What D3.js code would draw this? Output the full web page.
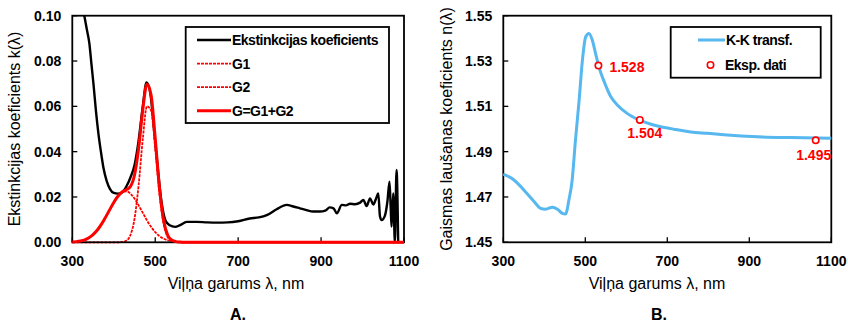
<!DOCTYPE html>
<html>
<head>
<meta charset="utf-8">
<script src="https://cdn.jsdelivr.net/npm/d3@7"></script>
<style>
  body { margin: 0; background: #fff; }
  svg { display: block; font-family: "Liberation Sans", Arial, sans-serif; }
</style>
</head>
<body>
<svg id="chart" width="848" height="322"></svg>
<script>
// panel A: extinction coefficient k(λ)
const kWave = [329, 335, 341, 346, 351, 357, 363, 369, 375, 383, 391, 400, 410, 420, 430, 440, 450, 460, 470, 479, 488, 497, 506, 515, 525, 535, 548, 560, 576, 600, 625, 650, 675, 700, 728, 750, 769, 793, 817, 833, 849, 865, 881, 897, 910, 921, 930, 938, 950, 960, 970, 982, 994, 1002, 1010, 1018, 1026, 1032, 1038, 1042, 1046, 1054, 1060, 1065, 1068, 1070, 1074, 1078, 1082, 1086];
const kValues = [0.100, 0.094, 0.088, 0.079, 0.070, 0.058, 0.048, 0.040, 0.033, 0.027, 0.0235, 0.0218, 0.0215, 0.022, 0.0245, 0.0285, 0.034, 0.045, 0.060, 0.0705, 0.066, 0.050, 0.033, 0.018, 0.0095, 0.0075, 0.0068, 0.0076, 0.009, 0.009, 0.0088, 0.0087, 0.0088, 0.0093, 0.0105, 0.011, 0.012, 0.0146, 0.0165, 0.0158, 0.015, 0.0142, 0.0136, 0.0136, 0.014, 0.0154, 0.015, 0.0128, 0.0165, 0.0163, 0.017, 0.0168, 0.0175, 0.0187, 0.016, 0.0194, 0.0167, 0.019, 0.0216, 0.0115, 0.0098, 0.0118, 0.018, 0.0267, 0.015, 0.0069, 0.0216, 0.0, 0.0319, 0.0];

const gWave = [300, 310, 320, 330, 340, 350, 360, 370, 380, 390, 400, 410, 420, 430, 440, 450, 460, 470, 480, 490, 500, 510, 520, 530, 540, 550, 560, 570, 600, 1100];
const g1Values = [0.00014, 0.0003, 0.0006, 0.0011, 0.0020, 0.0034, 0.0053, 0.0079, 0.0110, 0.0143, 0.0176, 0.0203, 0.0221, 0.0225, 0.0215, 0.0193, 0.0163, 0.0130, 0.0097, 0.0068, 0.0045, 0.0028, 0.0016, 0.0009, 0.0005, 0.0002, 0.0001, 0, 0, 0];
const g2Values = [0, 0, 0, 0, 0, 0, 0, 0, 0, 0, 0, 0.00001, 0.0001, 0.0007, 0.0031, 0.0103, 0.0253, 0.0455, 0.0600, 0.0582, 0.0414, 0.0217, 0.0083, 0.0023, 0.0005, 0.0001, 0, 0, 0, 0];
const gValues = [0.00014, 0.0003, 0.0006, 0.0011, 0.0020, 0.0034, 0.0053, 0.0079, 0.0110, 0.0143, 0.0176, 0.0203, 0.0222, 0.0232, 0.0246, 0.0296, 0.0416, 0.0585, 0.0697, 0.0650, 0.0459, 0.0245, 0.0099, 0.0032, 0.0010, 0.0003, 0.0001, 0, 0, 0];

// panel B: refractive index n(λ)
const nWave = [300, 326, 350, 375, 391, 403, 420, 432, 444, 452, 460, 468, 476, 485, 493, 501, 509, 517, 525, 533, 546, 562, 578, 602, 631, 676, 716, 757, 798, 838, 920, 1001, 1100];
const nValues = [1.4801, 1.4775, 1.4731, 1.468, 1.465, 1.4646, 1.4655, 1.4646, 1.4628, 1.4625, 1.4687, 1.4775, 1.4951, 1.5128, 1.5304, 1.5407, 1.5422, 1.5393, 1.5334, 1.5275, 1.5209, 1.5143, 1.5106, 1.5069, 1.504, 1.5013, 1.4999, 1.4987, 1.4981, 1.4975, 1.4966, 1.4962, 1.4959];
const expWave = [532, 633, 1062];
const expValues = [1.528, 1.504, 1.495];
const expLabels = ["1.528", "1.504", "1.495"];

const xTicks = [300, 500, 700, 900, 1100];
const kTicks = [0.00, 0.02, 0.04, 0.06, 0.08, 0.10];
const nTicks = [1.45, 1.47, 1.49, 1.51, 1.53, 1.55];

const svg = d3.select("#chart");
const plotTop = 15.7, plotBottom = 242.3;
const blue = "#56B8EE";
const red = "#FF0000";

function frame(g, x, y, yTicks, yFmt, yTitle, yTitleX, xCenter, tag) {
  const [x0, x1] = x.range();
  g.append("rect")
    .attr("x", x0).attr("y", plotTop)
    .attr("width", x1 - x0).attr("height", plotBottom - plotTop)
    .attr("fill", "none").attr("stroke", "#000").attr("stroke-width", 1.8);

  g.selectAll(".yt").data(yTicks).enter().append("line")
    .attr("x1", x0).attr("x2", x0 + 5)
    .attr("y1", d => y(d)).attr("y2", d => y(d))
    .attr("stroke", "#000").attr("stroke-width", 1.3);
  g.selectAll(".yl").data(yTicks).enter().append("text")
    .attr("x", x0 - 11).attr("y", d => y(d) + 5)
    .attr("text-anchor", "end")
    .attr("font-size", 14).attr("font-weight", "bold")
    .text(yFmt);

  g.selectAll(".xt").data(xTicks).enter().append("line")
    .attr("x1", d => x(d)).attr("x2", d => x(d))
    .attr("y1", plotBottom).attr("y2", plotBottom - 5)
    .attr("stroke", "#000").attr("stroke-width", 1.3);
  g.selectAll(".xl").data(xTicks).enter().append("text")
    .attr("x", d => x(d)).attr("y", 266)
    .attr("text-anchor", "middle")
    .attr("font-size", 14).attr("font-weight", "bold")
    .text(d => d);

  g.append("text")
    .attr("x", xCenter).attr("y", 289)
    .attr("text-anchor", "middle").attr("font-size", 16)
    .text("Viļņa garums λ, nm");
  g.append("text")
    .attr("transform", `translate(${yTitleX},${(plotTop + plotBottom) / 2}) rotate(-90)`)
    .attr("text-anchor", "middle").attr("font-size", 16)
    .text(yTitle);
  g.append("text")
    .attr("x", xCenter + 2).attr("y", 320)
    .attr("text-anchor", "middle").attr("font-size", 16).attr("font-weight", "bold")
    .text(tag);
}

// ---- A ----
const xA = d3.scaleLinear().domain([300, 1100]).range([72.3, 404]);
const yA = d3.scaleLinear().domain([0, 0.10]).range([plotBottom, plotTop]);
const gA = svg.append("g");

const lineA = (wave) => d3.line()
  .x((d, i) => xA(wave[i]))
  .y(d => yA(d))
  .curve(d3.curveMonotoneX);

gA.append("path").datum(kValues)
  .attr("d", lineA(kWave))
  .attr("fill", "none").attr("stroke", "#000").attr("stroke-width", 2.4);
gA.append("path").datum(g1Values)
  .attr("d", lineA(gWave))
  .attr("fill", "none").attr("stroke", red).attr("stroke-width", 1.8)
  .attr("stroke-dasharray", "3,1");
gA.append("path").datum(g2Values)
  .attr("d", lineA(gWave))
  .attr("fill", "none").attr("stroke", red).attr("stroke-width", 1.8)
  .attr("stroke-dasharray", "3,1");

frame(gA, xA, yA, kTicks, d => d.toFixed(2), "Ekstinkcijas koeficients k(λ)", 20, 236, "A.");

// red sum line drawn last so it covers the x axis like the original
gA.append("path").datum(gValues)
  .attr("d", lineA(gWave))
  .attr("fill", "none").attr("stroke", red).attr("stroke-width", 3);

const legA = gA.append("g");
legA.append("rect")
  .attr("x", 185.7).attr("y", 27).attr("width", 203.3).attr("height", 96)
  .attr("fill", "#fff").attr("stroke", "#000").attr("stroke-width", 1.8);
const legItemsA = [
  {label: "Ekstinkcijas koeficients", color: "#000", w: 2.4, dash: null},
  {label: "G1", color: red, w: 1.8, dash: "3,1"},
  {label: "G2", color: red, w: 1.8, dash: "3,1"},
  {label: "G=G1+G2", color: red, w: 3, dash: null}
];
legItemsA.forEach((it, i) => {
  const yy = 40 + i * 23.6;
  legA.append("line")
    .attr("x1", 197).attr("x2", 231).attr("y1", yy).attr("y2", yy)
    .attr("stroke", it.color).attr("stroke-width", it.w)
    .attr("stroke-dasharray", it.dash);
  legA.append("text")
    .attr("x", 232).attr("y", yy + 5)
    .attr("font-size", 14).attr("font-weight", "bold")
    .attr("letter-spacing", -0.5)
    .text(it.label);
});

// ---- B ----
const xB = d3.scaleLinear().domain([300, 1100]).range([503.3, 831.3]);
const yB = d3.scaleLinear().domain([1.45, 1.55]).range([plotBottom, plotTop]);
const gB = svg.append("g");

frame(gB, xB, yB, nTicks, d => d.toFixed(2), "Gaismas laušanas koeficients n(λ)", 452, 657, "B.");

gB.append("path").datum(nValues)
  .attr("d", d3.line()
    .x((d, i) => xB(nWave[i]))
    .y(d => yB(d))
    .curve(d3.curveMonotoneX))
  .attr("fill", "none").attr("stroke", blue).attr("stroke-width", 3);

gB.selectAll(".pt").data(expValues).enter().append("circle")
  .attr("cx", (d, i) => xB(expWave[i])).attr("cy", d => yB(d))
  .attr("r", 3.2).attr("fill", "#fff").attr("stroke", red).attr("stroke-width", 1.6);

const labelOff = [[11, 6, "start"], [5, 18, "middle"], [-2, 20, "middle"]];
gB.selectAll(".pl").data(expLabels).enter().append("text")
  .attr("x", (d, i) => xB(expWave[i]) + labelOff[i][0])
  .attr("y", (d, i) => yB(expValues[i]) + labelOff[i][1])
  .attr("text-anchor", (d, i) => labelOff[i][2])
  .attr("font-size", 14).attr("font-weight", "bold").attr("fill", red)
  .text(d => d);

const legB = gB.append("g");
legB.append("rect")
  .attr("x", 670.7).attr("y", 27).attr("width", 150).attr("height", 50.7)
  .attr("fill", "#fff").attr("stroke", "#000").attr("stroke-width", 1.8);
legB.append("line")
  .attr("x1", 698).attr("x2", 725).attr("y1", 40).attr("y2", 40)
  .attr("stroke", blue).attr("stroke-width", 3);
legB.append("text").attr("x", 726).attr("y", 45)
  .attr("font-size", 14).attr("font-weight", "bold").attr("letter-spacing", -0.5)
  .text("K-K transf.");
legB.append("circle").attr("cx", 710.5).attr("cy", 65).attr("r", 3.2)
  .attr("fill", "#fff").attr("stroke", red).attr("stroke-width", 1.6);
legB.append("text").attr("x", 725).attr("y", 70)
  .attr("font-size", 14).attr("font-weight", "bold").attr("letter-spacing", -0.5)
  .text("Eksp. dati");
</script>
</body>
</html>
